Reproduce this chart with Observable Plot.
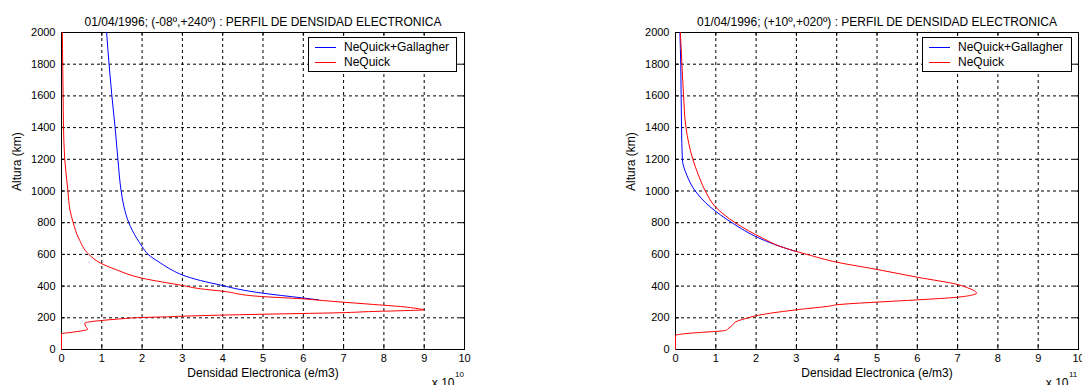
<!DOCTYPE html>
<html>
<head>
<meta charset="utf-8">
<script src="https://cdn.jsdelivr.net/npm/d3@7"></script>
<script src="https://cdn.jsdelivr.net/npm/@observablehq/plot@0.6"></script>
<style>
  html, body { margin: 0; padding: 0; background: #fff; }
  #wrap { position: relative; width: 1082px; height: 385px; overflow: hidden; font-family: "Liberation Sans", Arial, sans-serif; }
  .panel { position: absolute; top: 0; }
  .legend { position: absolute; box-sizing: border-box; border: 1px solid #000; background: #fff; height: 35px; font-size: 12px; color: #000; }
  .legend .row { position: absolute; left: 0; height: 15px; line-height: 15px; white-space: nowrap; }
  .legend .sw { position: absolute; top: 7px; height: 1px; }
  .legend .lab { position: absolute; top: 0; }
</style>
</head>
<body>
<div id="wrap"></div>
<script>
// ---- tick values ----
const xTicks = [0, 1, 2, 3, 4, 5, 6, 7, 8, 9, 10];
const yTicks = [0, 200, 400, 600, 800, 1000, 1200, 1400, 1600, 1800, 2000];

// ---- series names ----
const seriesNames = ["NeQuick+Gallagher", "NeQuick"];

// ---- left panel: 01/04/1996; (-08º,+240º), density in units of 1e10 e/m3 ----
const leftTitle = "01/04/1996; (-08º,+240º) : PERFIL DE DENSIDAD ELECTRONICA";
const leftExponent = "10";
const leftNeQuickAlt = [0, 99, 110, 120, 128, 145, 166, 172, 178, 183, 194, 202, 206, 210, 214, 225, 231, 240, 246, 250, 257, 267, 284, 303, 320, 334, 368, 383, 404, 450, 505, 545, 600, 700, 800, 880, 1000, 1200, 1400, 1600, 1800, 2000];
const leftNeQuickNe  = [0, 0, 0.3, 0.55, 0.65, 0.6, 0.58, 0.64, 0.8, 0.99, 1.5, 2.0, 2.6, 3.0, 3.5, 5.5, 6.76, 7.75, 8.6, 9.0, 8.85, 8.58, 7.75, 6.76, 5.96, 4.97, 3.99, 3.45, 3.0, 2.0, 1.34, 0.97, 0.68, 0.43, 0.29, 0.21, 0.16, 0.08, 0.05, 0.04, 0.03, 0.02];
const leftGallagherAlt = [313, 326, 355, 380, 404, 435, 470, 500, 545, 600, 650, 700, 800, 900, 1000, 1200, 1400, 1600, 1800, 2000];
const leftGallagherNe  = [6.38, 5.96, 5.0, 4.4, 3.99, 3.45, 3.0, 2.75, 2.46, 2.15, 2.0, 1.87, 1.67, 1.55, 1.48, 1.40, 1.33, 1.25, 1.18, 1.12];

// ---- right panel: 01/04/1996; (+10º,+020º), density in units of 1e11 e/m3 ----
const rightTitle = "01/04/1996; (+10º,+020º) : PERFIL DE DENSIDAD ELECTRONICA";
const rightExponent = "11";
const rightNeQuickAlt = [0, 88, 103, 109, 120, 130, 151, 179, 198, 212, 229, 252, 275, 282, 299, 313, 330, 343, 355, 370, 383, 410, 456, 505, 551, 600, 650, 700, 800, 900, 1000, 1100, 1200, 1400, 1600, 1800, 2000];
const rightNeQuickNe  = [0, 0, 0.37, 0.7, 1.24, 1.3, 1.4, 1.53, 1.78, 1.98, 2.36, 3.05, 3.85, 4.0, 5.0, 6.0, 7.0, 7.35, 7.47, 7.42, 7.31, 7.0, 6.0, 5.0, 4.0, 3.26, 2.6, 2.18, 1.48, 0.99, 0.74, 0.57, 0.43, 0.26, 0.2, 0.16, 0.12];
const rightGallagherAlt = [620, 650, 700, 800, 900, 1000, 1100, 1200, 1400, 1600, 1800, 2000];
const rightGallagherNe  = [2.97, 2.6, 2.1, 1.40, 0.86, 0.49, 0.28, 0.17, 0.15, 0.14, 0.13, 0.11];

const toRows = (alt, ne) => alt.map((a, i) => ({alt: a, ne: ne[i]}));

const FONT = '"Liberation Sans", Arial, Helvetica, sans-serif';
const W = 541, H = 385, MT = 32, MB = 36;

function panel({title, exponent, red, blue, marginLeft, marginRight, left}) {
  const pw = W - marginLeft - marginRight;
  const ph = H - MT - MB;
  const p = Plot.plot({
    width: W,
    height: H,
    marginTop: MT,
    marginBottom: MB,
    marginLeft,
    marginRight,
    style: {fontFamily: FONT, fontSize: "11px", color: "#000", background: "transparent", overflow: "visible"},
    x: {domain: [0, 10], ticks: xTicks, tickSize: 0, tickPadding: 5, tickFormat: d => String(d), label: null},
    y: {domain: [0, 2000], ticks: yTicks, tickSize: 0, tickPadding: 6, tickFormat: d => String(d), label: null},
    marks: [
      Plot.ruleX(xTicks, {x: d => d, stroke: "#000", strokeWidth: 1, strokeDasharray: "3,3"}),
      Plot.ruleY(yTicks, {y: d => d, stroke: "#000", strokeWidth: 1, strokeDasharray: "3,3"}),
      Plot.tickX(xTicks, {x: d => d, stroke: "#000", insetTop: ph - 4}),
      Plot.tickX(xTicks, {x: d => d, stroke: "#000", insetBottom: ph - 4}),
      Plot.tickY(yTicks, {y: d => d, stroke: "#000", insetRight: pw - 4}),
      Plot.tickY(yTicks, {y: d => d, stroke: "#000", insetLeft: pw - 4}),
      Plot.frame({stroke: "#000", strokeWidth: 1}),
      Plot.line(blue, {x: "ne", y: "alt", stroke: "#0000ff", strokeWidth: 1, curve: "monotone-y"}),
      Plot.line(red, {x: "ne", y: "alt", stroke: "#ff0000", strokeWidth: 1, curve: "monotone-y"}),
      Plot.text([title], {text: d => d, frameAnchor: "top", dy: -15, fontSize: 12, fill: "#000"}),
      Plot.text(["Densidad Electronica (e/m3)"], {text: d => d, frameAnchor: "bottom", dy: 27, fontSize: 12, fill: "#000"}),
      Plot.text(["Altura (km)"], {text: d => d, frameAnchor: "left", dx: -44, rotate: -90, fontSize: 12, fill: "#000"}),
      Plot.text(["x 10"], {text: d => d, frameAnchor: "bottom-right", dx: -10, dy: 29, textAnchor: "end", lineAnchor: "top", fontSize: 12, fill: "#000"}),
      Plot.text([exponent], {text: d => d, frameAnchor: "bottom-right", dx: -9.5, dy: 22, textAnchor: "start", lineAnchor: "top", fontSize: 8, fill: "#000"})
    ]
  });
  const div = document.createElement("div");
  div.className = "panel";
  div.style.left = left + "px";
  div.appendChild(p);
  return div;
}

function legend({left, top, width, swLeft, swWidth, textLeft}) {
  const lg = document.createElement("div");
  lg.className = "legend";
  lg.style.left = left + "px";
  lg.style.top = top + "px";
  lg.style.width = width + "px";
  const colors = ["#0000ff", "#ff0000"];
  seriesNames.forEach((name, i) => {
    const row = document.createElement("div");
    row.className = "row";
    row.style.top = (2 + i * 15) + "px";
    row.style.width = "100%";
    const sw = document.createElement("div");
    sw.className = "sw";
    sw.style.left = swLeft + "px";
    sw.style.width = swWidth + "px";
    sw.style.background = colors[i];
    const lab = document.createElement("div");
    lab.className = "lab";
    lab.style.left = textLeft + "px";
    lab.textContent = name;
    row.appendChild(sw);
    row.appendChild(lab);
    lg.appendChild(row);
  });
  return lg;
}

const wrap = document.getElementById("wrap");
wrap.appendChild(panel({
  title: leftTitle, exponent: leftExponent,
  red: toRows(leftNeQuickAlt, leftNeQuickNe),
  blue: toRows(leftGallagherAlt, leftGallagherNe),
  marginLeft: 61, marginRight: W - 464, left: 0
}));
wrap.appendChild(panel({
  title: rightTitle, exponent: rightExponent,
  red: toRows(rightNeQuickAlt, rightNeQuickNe),
  blue: toRows(rightGallagherAlt, rightGallagherNe),
  marginLeft: 675 - 541, marginRight: 1082 - 1078, left: 541
}));
wrap.appendChild(legend({left: 308, top: 37, width: 149, swLeft: 6, swWidth: 21, textLeft: 35}));
wrap.appendChild(legend({left: 922, top: 37, width: 150, swLeft: 6, swWidth: 21, textLeft: 35}));
</script>
</body>
</html>
